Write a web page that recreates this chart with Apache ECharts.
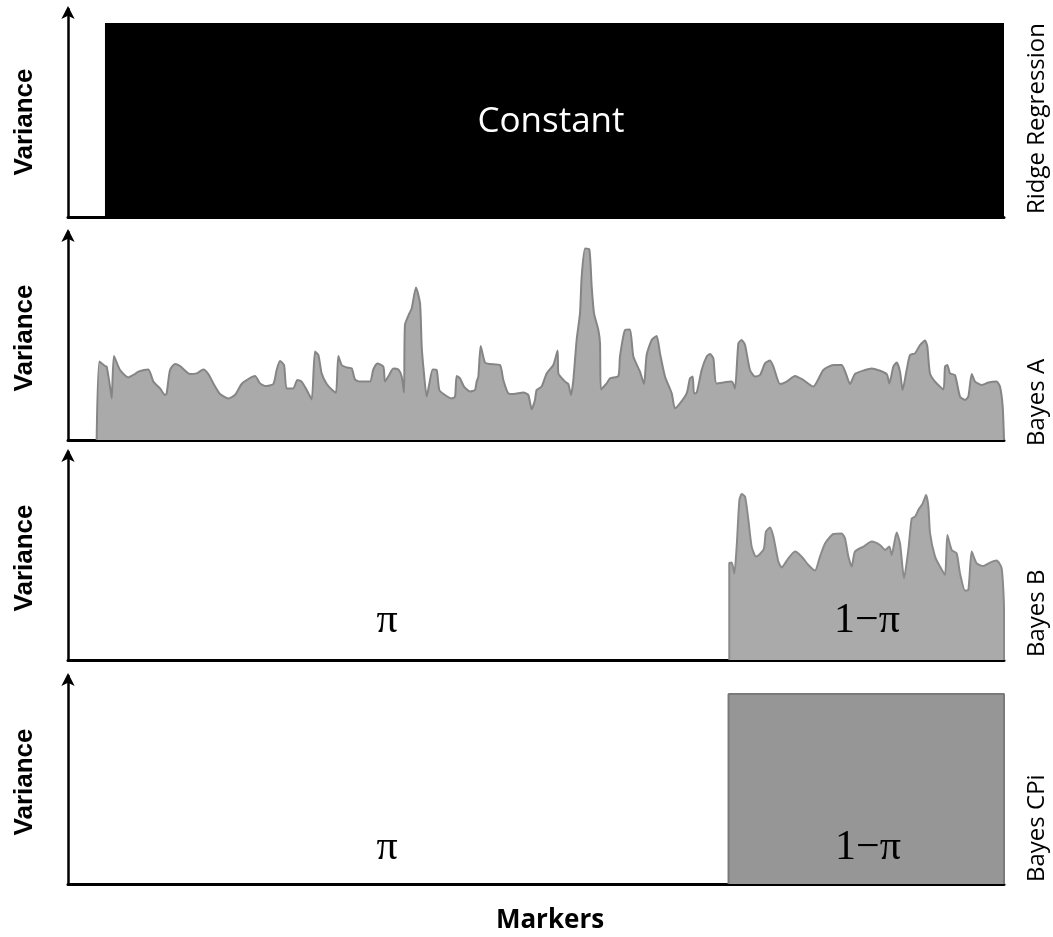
<!DOCTYPE html>
<html><head><meta charset="utf-8">
<script src="https://cdn.jsdelivr.net/npm/echarts@6/dist/echarts.min.js"></script>
<style>html,body{margin:0;padding:0;background:#fff}#c{width:1053px;height:937px}</style>
</head><body><div id="c"></div>
<script>
// Panel titles
const methods = ['Ridge Regression', 'Bayes A', 'Bayes B', 'Bayes CPi'];
const yLabel = 'Variance';
const xLabel = 'Markers';

// Ridge regression: constant variance over markers
const ridgePos = [39.5, 1000];
const ridgeVar = [97, 97];

// Bayes A: marker-specific variances (marker position 0..1000)
const bayesAPos = [30.6,33.5,39.5,41.3,44.9,46.7,49.1,55.6,64.5,71.6,75.1,85.8,91.2,98.3,103.6,105.4,109,114.3,119.7,130.3,137.5,144.6,149.9,155.3,162.4,171.3,178.4,185.5,192.7,199.8,205.1,210.5,219.4,222.9,226.5,230.8,233.6,240.7,245,249.6,255,260.3,263.9,267.5,271,276.4,281.7,286.3,288.8,292.4,297.7,303.1,306.6,312,322.6,326.2,330.5,336.9,338.7,342.2,347.6,352.9,356.5,359,360,364.7,367.2,371.8,376.1,377.9,380.3,383.2,386,389.6,393.9,396.7,402.8,409.9,413.5,415.2,418.8,423.1,429.5,434.8,436.6,438.4,440.9,445.5,450.9,461.5,465.1,470.4,475.8,486.5,491.8,495.4,498.9,500.7,506,511.4,518.5,523.1,
  523.9,531,534.5,537.4,539.9,543.4,547,548.8,552.4,557,559.5,562,566.6,568.4,569.4,575.5,579.1,588,589.7,595.1,600.4,604,611.1,615.4,618.2,623.6,628.9,632.5,637.8,645,648.5,653.8,661,664.5,667.4,668.8,671.7,677,682.3,685.9,689.5,693,709.1,712.6,716.2,719.7,723.3,728.6,734,739.3,744.7,750,753.6,760.7,767.8,776.7,785.6,796.3,807,817.7,826.6,831.2,835.5,840.8,851.5,858.6,874.6,877.5,881.8,885.3,888.9,891.7,896,899.6,904.9,910.3,915.6,918.1,920.9,926.3,935.2,937,939.5,942.3,947.6,953,958.3,961.9,965.5,969.1,976.2,983.3,992.2,995.7,998.6,1000];
const bayesAVar = [0,39.2,37,36.7,26.7,20.8,42,35,31.3,33,34.2,35.3,29.2,25.8,22.5,23.3,35,38,37,33,33.3,35.3,33,28.3,23,20.8,22.5,28,30.5,32,28.3,27,28,35,39.5,37.5,25.8,25.8,30,29.2,25,20.3,44.2,42.5,33.3,28,25.3,23.7,42,37.5,36.3,35.8,30.3,29.2,29.2,35.3,38.3,36.7,29.2,31.7,35.8,35.3,31.7,23.7,57.5,63.3,65.8,76.3,68.3,46.7,33.3,21.7,28,35.3,35,25,22.5,20.8,21.7,32,30.8,26.7,24.2,25,29.2,31.7,47,38.7,38,37.5,30,23.3,23,23.8,22.5,15.3,20,25,26.7,33.3,37.5,44.7,
  33.3,29.2,28,22.5,30,50,63.3,81.7,95.8,95.3,76.7,63.3,55,48.3,25.3,28.3,30.8,32,41.7,55,55.3,41.7,34.2,28,42.5,50,52,43.3,31.7,23.3,15.8,18.3,23.3,30.8,31.7,23.3,23.7,35,41.7,43,40.8,28.3,29.2,25.8,48.3,50,47.5,35,31.7,32.5,38.3,39.7,36.7,28,29.2,32,30,26.7,35,37.5,37.5,33,28,33,35,35.8,33,28.3,36.7,38.7,34.2,25,35,42.5,43.3,47.5,49.7,46.7,33.3,29.2,25.3,36.7,37.5,33.3,32.5,21.7,20,21.7,33,29.2,27.5,28.7,29.2,26.7,16.7,0];

// Bayes B: only the (1-pi) fraction of markers has non-zero variance
const bayesBPos = [706.5,706.5,709.1,711.9,714.4,717.3,719.7,723.3,726.9,730.4,735,739.3,743.6,745.7,750,753.6,758.9,762.5,769.6,776.7,783.8,791,798.1,803.4,808.8,817.7,826.6,830.1,833.7,837.3,840.8,849.7,858.6,867.5,872.9,877.5,880,885.3,888.9,893.2,897.8,901.4,905,908.5,913.2,916.7,919.2,921,926.3,931.6,937,939.5,944.1,949.4,953,958.3,961.9,965.5,970.8,977.9,985,992.2,997.5,1000,1000];
const bayesBVar = [0,48.3,48.7,43.3,56.7,80,83,81.7,70,56.7,51.7,53,55.8,64.2,66.3,61.7,49.2,46.3,50.8,54.2,51.7,47.5,44.7,51.7,58.3,63,63.3,60.8,51.7,46.7,54.2,56.7,59.2,57.5,55,56.7,52.5,63.7,58.3,40.8,55,70.8,71.7,75,78.3,82.5,76.7,63.3,51.7,46.7,42.5,62.5,55,53.3,43.3,34.7,35,54.2,48.3,47,48.7,49.7,45.8,25,0];

// Bayes CPi: common variance for the (1-pi) fraction
const cpiPos = [705.7, 1000];
const cpiVar = [95, 95];

// Region labels
const piLabel = 'π';
const oneMinusPiLabel = '1−π';
const constantLabel = 'Constant';

function rect(pos, v) {
  return [[pos[0], 0], [pos[0], v[0]], [pos[1], v[1]], [pos[1], 0]];
}
function zip(p, v) { return p.map((x, i) => [x, v[i]]); }

const grids = [
  {left: 68, right: 49, top: 9, height: 208},
  {left: 68, right: 49, top: 232, height: 208},
  {left: 68, right: 49, top: 452, height: 208},
  {left: 68, right: 49, top: 676, height: 208}
];
const xAxes = grids.map((g, i) => ({
  type: 'value', gridIndex: i, min: 0, max: 1000,
  axisLine: {show: true, onZero: false, lineStyle: {color: '#000', width: 3}},
  axisTick: {show: false}, axisLabel: {show: false}, splitLine: {show: false}
}));
const yAxes = grids.map((g, i) => ({
  type: 'value', gridIndex: i, min: 0, max: 104,
  axisLine: {show: true, symbol: ['none', 'arrow'], symbolSize: [10, 13], symbolOffset: [0, 3],
    lineStyle: {color: '#000', width: 2.5}},
  axisTick: {show: false}, axisLabel: {show: false}, splitLine: {show: false}
}));

const series = [
  {type: 'line', xAxisIndex: 0, yAxisIndex: 0, data: rect(ridgePos, ridgeVar), symbol: 'none',
   lineStyle: {width: 0}, areaStyle: {color: '#000', opacity: 1}, z: 1, silent: true},
  {type: 'line', xAxisIndex: 1, yAxisIndex: 1, data: zip(bayesAPos, bayesAVar), symbol: 'none', smooth: 0.2,
   lineStyle: {color: '#858585', width: 2}, areaStyle: {color: '#aaaaaa', opacity: 1}, z: 1, silent: true},
  {type: 'line', xAxisIndex: 2, yAxisIndex: 2, data: zip(bayesBPos, bayesBVar), symbol: 'none', smooth: 0.2,
   lineStyle: {color: '#8a8a8a', width: 2}, areaStyle: {color: '#aaaaaa', opacity: 1}, z: 1, silent: true},
  {type: 'line', xAxisIndex: 3, yAxisIndex: 3, data: rect(cpiPos, cpiVar), symbol: 'none',
   lineStyle: {color: '#7a7a7a', width: 2}, areaStyle: {color: '#969696', opacity: 1}, z: 1, silent: true}
];

const graphic = [];
const varY = [122, 338, 558, 782];
varY.forEach(y => graphic.push({type: 'text', x: 25, y: y, rotation: Math.PI / 2,
  style: {text: yLabel, font: 'bold 26px "Liberation Sans", Arial, sans-serif', fill: '#000', align: 'center', verticalAlign: 'middle'}}));
const rightY = [214, 446, 657, 882];
methods.forEach((m, i) => graphic.push({type: 'text', x: 1037, y: rightY[i], rotation: Math.PI / 2,
  style: {text: m, font: '24px "Open Sans", sans-serif', fill: '#000', align: 'left', verticalAlign: 'middle'}}));
graphic.push({type: 'text', x: 551, y: 122, z: 10,
  style: {text: constantLabel, font: '35px "Open Sans", sans-serif', fill: '#fff', align: 'center', verticalAlign: 'middle'}});
graphic.push({type: 'text', x: 550, y: 921,
  style: {text: xLabel, font: 'bold 26px "Open Sans", sans-serif', fill: '#000', align: 'center', verticalAlign: 'middle'}});
[[387, 621], [387, 848]].forEach(p => graphic.push({type: 'text', x: p[0], y: p[1], z: 10,
  style: {text: piLabel, font: '42px "Liberation Serif", "Times New Roman", serif', fill: '#000', align: 'center', verticalAlign: 'middle'}}));
[[867, 621], [868, 848]].forEach(p => graphic.push({type: 'text', x: p[0], y: p[1], z: 10,
  style: {text: oneMinusPiLabel, font: '42px "Liberation Serif", "Times New Roman", serif', fill: '#000', align: 'center', verticalAlign: 'middle'}}));

const chart = echarts.init(document.getElementById('c'), null, {renderer: 'canvas'});
chart.setOption({animation: false, backgroundColor: '#fff', grid: grids, xAxis: xAxes, yAxis: yAxes, series: series, graphic: graphic});
</script></body></html>
